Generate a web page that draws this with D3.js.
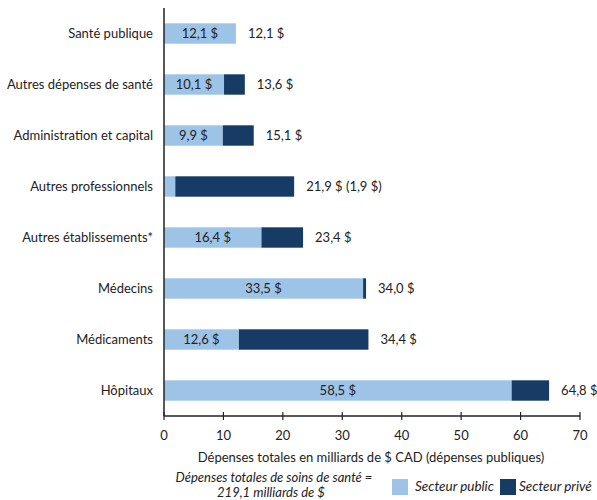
<!DOCTYPE html>
<html><head><meta charset="utf-8">
<script src="https://cdn.jsdelivr.net/npm/d3@7"></script>
<style>body{margin:0;background:#fff}svg{display:block}text{font-family:Lato,"Open Sans",sans-serif;fill:#222}</style>
</head><body><svg id="c" width="597" height="500"></svg>
<script>
const categories = ["Santé publique","Autres dépenses de santé","Administration et capital","Autres professionnels","Autres établissements*","Médecins","Médicaments","Hôpitaux"];
const publicValues = [12.1,10.1,9.9,1.9,16.4,33.5,12.6,58.5];
const totalValues = [12.1,13.6,15.1,21.9,23.4,34.0,34.4,64.8];
const insideLabels = ["12,1 $","10,1 $","9,9 $","","16,4 $","33,5 $","12,6 $","58,5 $"];
const outsideLabels = ["12,1 $","13,6 $","15,1 $","21,9 $ (1,9 $)","23,4 $","34,0 $","34,4 $","64,8 $"];
const xTicks = [0,10,20,30,40,50,60,70];

const svg = d3.select("#c");
const x = d3.scaleLinear().domain([0,70]).range([164,580]);
const y = d3.scaleBand().domain(categories).range([8,416]).paddingInner(0.6).paddingOuter(0.3);
const light = "#9dc3e6", dark = "#163b64";

const rows = categories.map((c,i)=>({c,pub:publicValues[i],tot:totalValues[i],inl:insideLabels[i],outl:outsideLabels[i]}));

svg.selectAll("rect.pub").data(rows).join("rect")
  .attr("x",x(0)).attr("y",d=>y(d.c)).attr("width",d=>x(d.pub)-x(0)).attr("height",y.bandwidth()).attr("fill",light);
svg.selectAll("rect.priv").data(rows).join("rect")
  .attr("x",d=>x(d.pub)).attr("y",d=>y(d.c)).attr("width",d=>x(d.tot)-x(d.pub)).attr("height",y.bandwidth()).attr("fill",dark);

svg.selectAll("text.in").data(rows).join("text")
  .attr("x",d=>(x(0)+x(d.pub))/2).attr("y",d=>y(d.c)+y.bandwidth()/2).attr("dy","0.35em")
  .attr("text-anchor","middle").style("font-size","13px").text(d=>d.inl);
svg.selectAll("text.out").data(rows).join("text")
  .attr("x",d=>x(d.tot)+12).attr("y",d=>y(d.c)+y.bandwidth()/2).attr("dy","0.35em")
  .style("font-size","13px").text(d=>d.outl);
svg.selectAll("text.cat").data(rows).join("text")
  .attr("x",153).attr("y",d=>y(d.c)+y.bandwidth()/2).attr("dy","0.35em")
  .attr("text-anchor","end").style("font-size","13px").text(d=>d.c);

// axes
svg.append("line").attr("x1",x(0)).attr("x2",x(0)).attr("y1",8).attr("y2",416).attr("stroke","#222").attr("stroke-width",1.5);
const ax = svg.append("g").attr("transform","translate(0,416)");
ax.append("line").attr("x1",x(0)).attr("x2",x(70)).attr("stroke","#222").attr("stroke-width",1.5);
ax.selectAll("line.t").data(xTicks).join("line").attr("x1",d=>x(d)).attr("x2",d=>x(d)).attr("y1",-4).attr("y2",4).attr("stroke","#222").attr("stroke-width",1.2);
ax.selectAll("text.t").data(xTicks).join("text").attr("x",d=>x(d)).attr("y",24).attr("text-anchor","middle").style("font-size","13px").text(d=>d);

svg.append("text").attr("x",371).attr("y",462).attr("text-anchor","middle").style("font-size","13px").text("Dépenses totales en milliards de $ CAD (dépenses publiques)");
svg.append("text").attr("x",274).attr("y",482).attr("text-anchor","middle").style("font-size","13px").style("font-style","italic").text("Dépenses totales de soins de santé =");
svg.append("text").attr("x",271).attr("y",497).attr("text-anchor","middle").style("font-size","13px").style("font-style","italic").text("219,1 milliards de $");

const legend = [{t:"Secteur public",c:light,x:392},{t:"Secteur privé",c:dark,x:500}];
legend.forEach(l=>{
  svg.append("rect").attr("x",l.x).attr("y",479).attr("width",16).attr("height",16).attr("fill",l.c);
  svg.append("text").attr("x",l.x+(l.c===light?23:19)).attr("y",491).style("font-size","13.5px").style("font-style","italic").text(l.t);
});
</script></body></html>
